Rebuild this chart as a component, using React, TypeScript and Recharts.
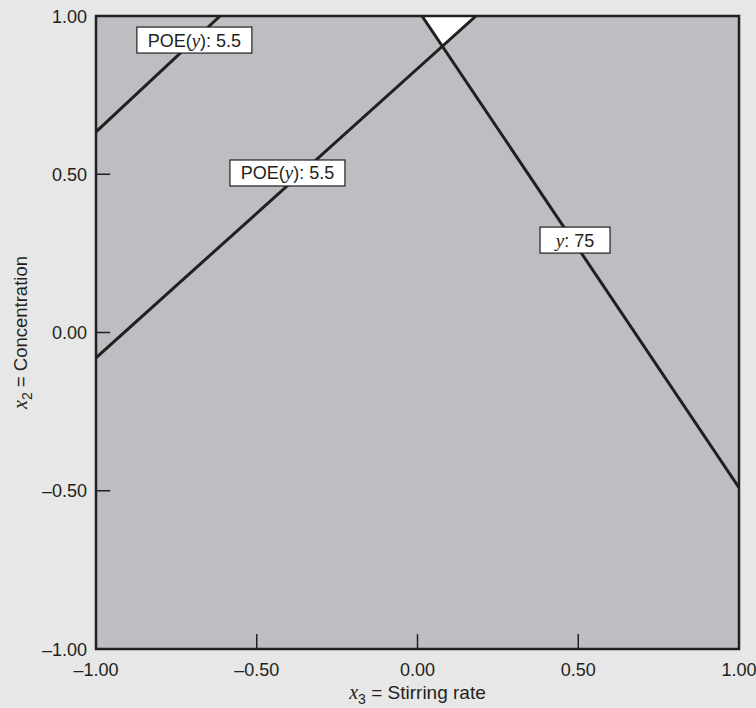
import {
  ComposedChart,
  XAxis,
  YAxis,
  Line,
  Area,
  Scatter,
  ReferenceLine,
  ReferenceArea,
  CartesianGrid,
  Label,
} from "recharts";

// axis ticks
const TICKS = [-1, -0.5, 0, 0.5, 1];
const INNER_TICKS = [-0.5, 0, 0.5];

// contour lines (x3 = stirring rate, x2 = concentration)
const poeUpper = [
  { x: -1, y: 0.634 },
  { x: -0.614, y: 1 },
];
const poeLower = [
  { x: -1, y: -0.08 },
  { x: 0.182, y: 1 },
];
const yield75 = [
  { x: 0.014, y: 1 },
  { x: 1, y: -0.49 },
];
// white region between the contours, up to x2 = 1
const feasible = [
  { x: 0.014, y: 1 },
  { x: 0.077, y: 0.904 },
  { x: 0.182, y: 1 },
];

// contour labels, anchored at their centre
const contourLabels = [
  { x: -0.694, y: 0.924, kind: "POE", value: "5.5" },
  { x: -0.4045, y: 0.504, kind: "POE", value: "5.5" },
  { x: 0.49, y: 0.292, kind: "y", value: "75" },
];

const INK = "#231f20";
const SANS = "'Liberation Sans', Arial, sans-serif";
const SERIF = "'Liberation Serif', 'Times New Roman', serif";

const fmt = (v: number) => (v < 0 ? "\u2013" : "") + Math.abs(v).toFixed(2);

const XTick = ({ x, y, payload }: any) => (
  <text x={x} y={y} dy={27} textAnchor="middle" fontSize={18} fontFamily={SANS} fill={INK}>
    {fmt(payload.value)}
  </text>
);

const YTick = ({ x, y, payload }: any) => (
  <text x={x} y={y} dx={-9} dy={6.5} textAnchor="end" fontSize={18} fontFamily={SANS} fill={INK}>
    {fmt(payload.value)}
  </text>
);

const XTitle = ({ viewBox }: any) => (
  <text
    x={viewBox.x + viewBox.width / 2}
    y={viewBox.y + 50}
    textAnchor="middle"
    fontSize={19}
    fontFamily={SANS}
    fill={INK}
  >
    <tspan fontFamily={SERIF} fontStyle="italic" fontSize={20}>x</tspan>
    <tspan fontSize={14} dy={5}>3</tspan>
    <tspan dy={-5}> = Stirring rate</tspan>
  </text>
);

const YTitle = ({ viewBox }: any) => {
  const cx = 27;
  const cy = viewBox.y + viewBox.height / 2;
  return (
    <text
      x={cx}
      y={cy}
      transform={`rotate(-90, ${cx}, ${cy})`}
      textAnchor="middle"
      fontSize={18.5}
      fontFamily={SANS}
      fill={INK}
    >
      <tspan fontFamily={SERIF} fontStyle="italic" fontSize={20}>x</tspan>
      <tspan fontSize={14} dy={5}>2</tspan>
      <tspan dy={-5}> = Concentration</tspan>
    </text>
  );
};

const LabelBox = ({ cx, cy, payload }: any) => {
  const isPoe = payload.kind === "POE";
  const w = isPoe ? 115 : 70;
  const h = isPoe ? 26 : 26;
  return (
    <g>
      <rect x={cx - w / 2} y={cy - h / 2} width={w} height={h} fill="#ffffff" stroke={INK} strokeWidth={1.2} />
      <text x={cx} y={cy + 6.5} textAnchor="middle" fontSize={18} fontFamily={SANS} fill={INK}>
        {isPoe ? (
          <>
            <tspan>POE(</tspan>
            <tspan fontFamily={SERIF} fontStyle="italic" fontSize={19}>y</tspan>
            <tspan>): {payload.value}</tspan>
          </>
        ) : (
          <>
            <tspan fontFamily={SERIF} fontStyle="italic" fontSize={19}>y</tspan>
            <tspan>: {payload.value}</tspan>
          </>
        )}
      </text>
    </g>
  );
};

export default function App() {
  return (
    <div
      style={{
        position: "absolute",
        left: 0,
        top: 0,
        width: 756,
        height: 708,
        background: "#e6e7e6",
      }}
    >
      <ComposedChart
        width={756}
        height={708}
        margin={{ top: 16, right: 17, bottom: 0, left: 0 }}
      >
        <CartesianGrid fill="#bdbec1" horizontal={false} vertical={false} stroke="none" />
        <XAxis
          type="number"
          dataKey="x"
          domain={[-1, 1]}
          ticks={TICKS}
          allowDataOverflow
          height={59}
          axisLine={false}
          tickLine={false}
          tickSize={0}
          tickMargin={0}
          tick={<XTick />}
          interval={0}
        >
          <Label content={<XTitle />} />
        </XAxis>
        <YAxis
          type="number"
          dataKey="y"
          domain={[-1, 1]}
          ticks={TICKS}
          allowDataOverflow
          width={96}
          axisLine={false}
          tickLine={false}
          tickSize={0}
          tickMargin={0}
          tick={<YTick />}
          interval={0}
        >
          <Label content={<YTitle />} />
        </YAxis>

        <Area
          data={feasible}
          dataKey="y"
          baseValue={1}
          type="linear"
          fill="#ffffff"
          fillOpacity={1}
          stroke="none"
          isAnimationActive={false}
          activeDot={false}
        />

        {INNER_TICKS.map((t) => (
          <ReferenceLine
            key={`xt${t}`}
            segment={[
              { x: t, y: -1 },
              { x: t, y: -0.953 },
            ]}
            stroke={INK}
            strokeWidth={1.5}
          />
        ))}
        {INNER_TICKS.map((t) => (
          <ReferenceLine
            key={`yt${t}`}
            segment={[
              { x: -1, y: t },
              { x: -0.956, y: t },
            ]}
            stroke={INK}
            strokeWidth={1.5}
          />
        ))}

        <Line data={poeUpper} dataKey="y" type="linear" stroke={INK} strokeWidth={3} dot={false} activeDot={false} isAnimationActive={false} />
        <Line data={poeLower} dataKey="y" type="linear" stroke={INK} strokeWidth={3} dot={false} activeDot={false} isAnimationActive={false} />
        <Line data={yield75} dataKey="y" type="linear" stroke={INK} strokeWidth={3} dot={false} activeDot={false} isAnimationActive={false} />

        <Scatter data={contourLabels} dataKey="y" shape={<LabelBox />} isAnimationActive={false} />

        <ReferenceArea x1={-1} x2={1} y1={-1} y2={1} fill="none" stroke={INK} strokeWidth={2.5} />
      </ComposedChart>
    </div>
  );
}
